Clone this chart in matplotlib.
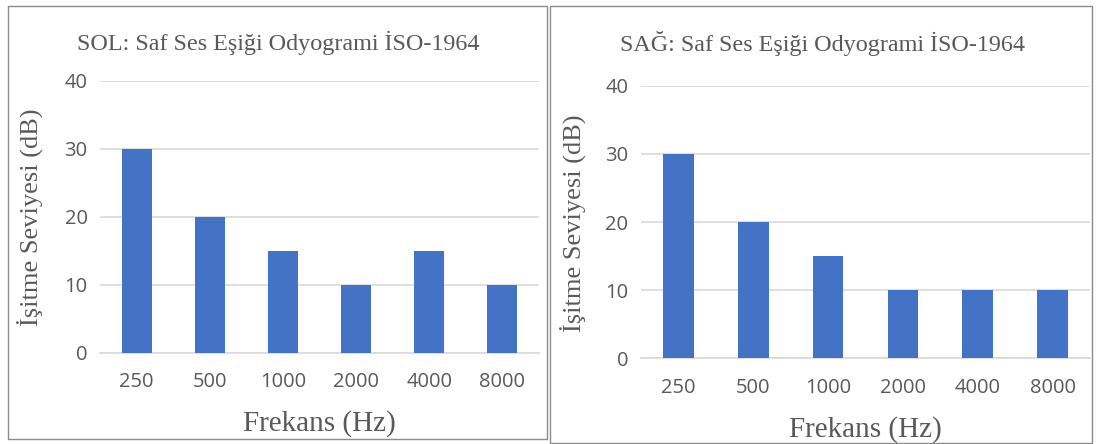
import matplotlib.pyplot as plt
from matplotlib.patches import Rectangle

# audiogram thresholds per ear (dB)
frequencies = ["250", "500", "1000", "2000", "4000", "8000"]
left_ear = [30, 20, 15, 10, 15, 10]
right_ear = [30, 20, 15, 10, 10, 10]
titles = ["SOL: Saf Ses Eşiği Odyogrami İSO-1964", "SAĞ: Saf Ses Eşiği Odyogrami İSO-1964"]
y_ticks = [0, 10, 20, 30, 40]

W, H = 1097, 444
bar_color = "#4472C4"
text_gray = "#595959"
grid_gray = "#D9D9D9"
serif = "Liberation Serif"
sans = "Open Sans"

fig = plt.figure(figsize=(W / 100, H / 100), dpi=100)


def px_box(x0, y0, x1, y1):
    # pixel box (top-left origin) -> figure fraction [left, bottom, width, height]
    return [x0 / W, 1 - y1 / H, (x1 - x0) / W, (y1 - y0) / H]


panels = [
    # frame box, plot box, title center, ylabel x, data
    dict(frame=(8, 6, 547, 439), plot=(100, 80.7, 539, 352.7), title=(278, 43), ylab=30, data=left_ear),
    dict(frame=(550, 6, 1092, 443), plot=(641, 85.7, 1090, 358.3), title=(822, 43), ylab=573, data=right_ear),
]

for p, title in zip(panels, titles):
    fx0, fy0, fx1, fy1 = p["frame"]
    fig.patches.append(Rectangle((fx0 / W, 1 - fy1 / H), (fx1 - fx0) / W, (fy1 - fy0) / H,
                                 transform=fig.transFigure, fill=False, edgecolor="#8C8C8C", linewidth=1.0))

    ax = fig.add_axes(px_box(*p["plot"]))
    x = range(len(frequencies))
    ax.bar(x, p["data"], width=0.41, color=bar_color, zorder=3)
    ax.set_xlim(-0.5, len(frequencies) - 0.5)
    ax.set_ylim(0, 40)
    ax.set_yticks(y_ticks)
    ax.set_xticks(list(x))
    ax.set_xticklabels(frequencies)
    ax.grid(axis="y", color=grid_gray, linewidth=1.2, zorder=0)
    for s in ["top", "right", "left"]:
        ax.spines[s].set_visible(False)
    ax.spines["bottom"].set_color(grid_gray)
    ax.spines["bottom"].set_linewidth(1.2)
    ax.tick_params(length=0, colors=text_gray, labelsize=14.5, pad=9)
    ax.tick_params(axis="x", pad=14)
    for lbl in ax.get_xticklabels() + ax.get_yticklabels():
        lbl.set_fontfamily(sans)

    cx = (p["plot"][0] + p["plot"][2]) / 2
    tx, ty = p["title"]
    fig.text(tx / W, 1 - ty / H, title, ha="center", va="center",
             fontfamily=serif, fontsize=17.4, color=text_gray)
    fig.text(cx / W, 1 - (p["plot"][3] + 71) / H, "Frekans (Hz)", ha="center", va="center",
             fontfamily=serif, fontsize=21, color=text_gray)
    fig.text(p["ylab"] / W, 1 - ((p["plot"][1] + p["plot"][3]) / 2 + 1) / H, "İşitme Seviyesi (dB)",
             ha="center", va="center", rotation=90, fontfamily=serif, fontsize=19, color=text_gray)

fig.savefig("out.png", dpi=100)
